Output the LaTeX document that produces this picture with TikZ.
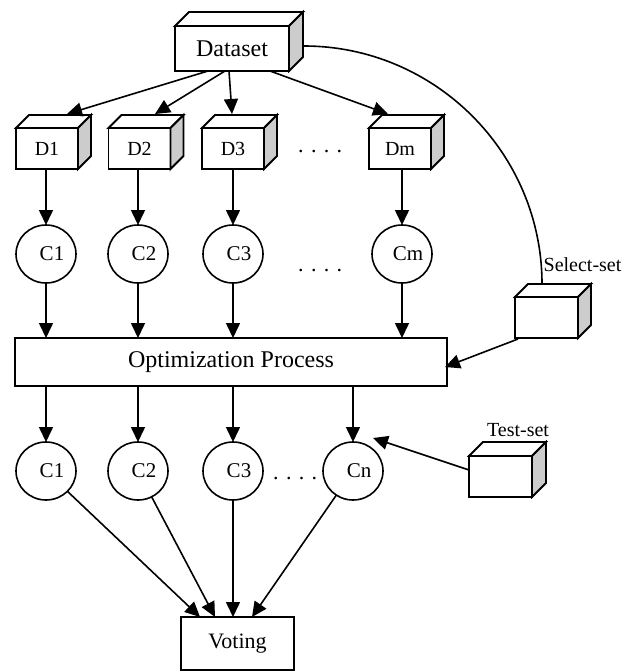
\documentclass[tikz,border=0pt]{standalone}
\usepackage{fontspec}
\setmainfont{Liberation Serif}
\usetikzlibrary{arrows.meta,shapes.geometric,calc}

% top and side faces of a box whose front face is node #1, depth #2
\newcommand{\cubefaces}[2]{%
  \draw[cubeline, fill=white] (#1.north west) -- ++(#2,-#2)
    -- ([shift={(#2,-#2)}]#1.north east) -- (#1.north east) -- cycle;
  \draw[cubeline, fill=gray!40] (#1.north east) -- ++(#2,-#2)
    -- ([shift={(#2,-#2)}]#1.south east) -- (#1.south east) -- cycle;
}

\begin{document}
\begin{tikzpicture}[x=1pt, y=-1pt,
  cubeline/.style={line width=1.8pt, line join=miter},
  front/.style={draw, cubeline, fill=white, inner sep=0pt, outer sep=0pt,
    minimum width=62pt, minimum height=41pt, font=\fontsize{20}{24}\selectfont},
  plain/.style={draw, line width=1.8pt, inner sep=0pt, outer sep=0pt},
  cls/.style={draw, ellipse, line width=1.6pt, minimum width=60pt,
    minimum height=58pt, inner sep=0pt, outer sep=0pt,
    font=\fontsize{21}{24}\selectfont, execute at begin node={\hspace*{12pt}}},
  dots/.style={anchor=base west, inner sep=0pt, font=\fontsize{22}{24}\selectfont},
  small/.style={inner sep=0pt, font=\fontsize{20}{24}\selectfont},
  arr/.style={line width=1.6pt, -{Triangle[length=15pt, width=14pt]}},
  link/.style={line width=1.6pt}
]
\useasboundingbox (0,0) rectangle (637,672);

% data source
\node[front, minimum width=114pt, minimum height=45pt,
      font=\fontsize{24}{28}\selectfont] (data) at (232,48.5) {Dataset};
\cubefaces{data}{14}

% partitions
\node[front] (d1) at (47,148.5) {D1};   \cubefaces{d1}{13}
\node[front] (d2) at (139.5,148.5) {D2}; \cubefaces{d2}{13}
\node[front] (d3) at (233,148.5) {D3};  \cubefaces{d3}{13}
\node[front] (dm) at (400,148.5) {Dm};  \cubefaces{dm}{13}
\node[dots] (ddots) at (298,152) {. . . .};

% first classifiers
\node[cls] (c1) at (46,254) {C1};
\node[cls] (c2) at (138,254) {C2};
\node[cls] (c3) at (233,254) {C3};
\node[cls] (cm) at (402,254) {Cm};
\node[dots] (cdots) at (298,271) {. . . .};

% optimisation
\node[plain, minimum width=432pt, minimum height=48pt,
      font=\fontsize{24}{28}\selectfont] (opt) at (231,362) {Optimization Process};

% selection set
\node[front, minimum width=63pt] (sel) at (546.5,317.5) {};
\cubefaces{sel}{13}
\node[small] (sellbl) at (582.5,265) {Select-set};

% selected classifiers
\node[cls] (b1) at (46,471) {C1};
\node[cls] (b2) at (138,471) {C2};
\node[cls] (b3) at (233,471) {C3};
\node[cls] (bn) at (353,471) {Cn};
\node[dots] (bdots) at (273,479) {. . . .};

% test set
\node[front, minimum width=63pt] (test) at (500.5,476.5) {};
\cubefaces{test}{14}
\node[small] (testlbl) at (518,430) {Test-set};

% voting
\node[plain, minimum width=113pt, minimum height=53pt,
      font=\fontsize{22}{26}\selectfont] (vote) at (237.5,643.5) {Voting};

% split points on the data source and targets on the partitions
\coordinate (s1) at (208,71);  \coordinate (t1) at (67,114);
\coordinate (s2) at (225,71);  \coordinate (t2) at (155,114);
\coordinate (s3) at (229,71);  \coordinate (t3) at (232,114);
\coordinate (s4) at (270,71);  \coordinate (t4) at (388,114);
\draw[arr] (s1) -- (t1);
\draw[arr] (s2) -- (t2);
\draw[arr] (s3) -- (t3);
\draw[arr] (s4) -- (t4);

% partitions to classifiers
\foreach \d/\c in {d1/c1, d2/c2, d3/c3, dm/cm}
  \draw[arr] (\d.south -| \c) -- (\c.north);

% classifiers into the optimisation
\foreach \c in {c1, c2, c3, cm}
  \draw[arr] (\c.south) -- (\c |- opt.north);

% optimisation to selected classifiers
\foreach \c in {b1, b2, b3, bn}
  \draw[arr] (opt.south -| \c) -- (\c.north);

% data source to selection set
\coordinate (curvestart) at (304,46);
\coordinate (curveend) at (542,284);
\draw[link] (curvestart) .. controls (435,46) and (542,153) .. (curveend);

% selection set into the optimisation
\coordinate (optin) at ($(opt.east)+(-2,5)$);
\draw[arr] ([shift={(3,1)}]sel.south west) -- (optin);

% test set towards the last classifier
\coordinate (testout) at (469,470);
\coordinate (cnin) at (373,438);
\draw[arr] (testout) -- (cnin);

% classifiers into voting
\coordinate (v1) at (200,617);
\coordinate (v2) at (215,617);
\coordinate (v3) at (233,617);
\coordinate (v4) at (252,617);
\draw[arr] (b1) -- (v1);
\draw[arr] (b2) -- (v2);
\draw[arr] (b3) -- (v3);
\draw[arr] (bn) -- (v4);
\end{tikzpicture}
\end{document}
